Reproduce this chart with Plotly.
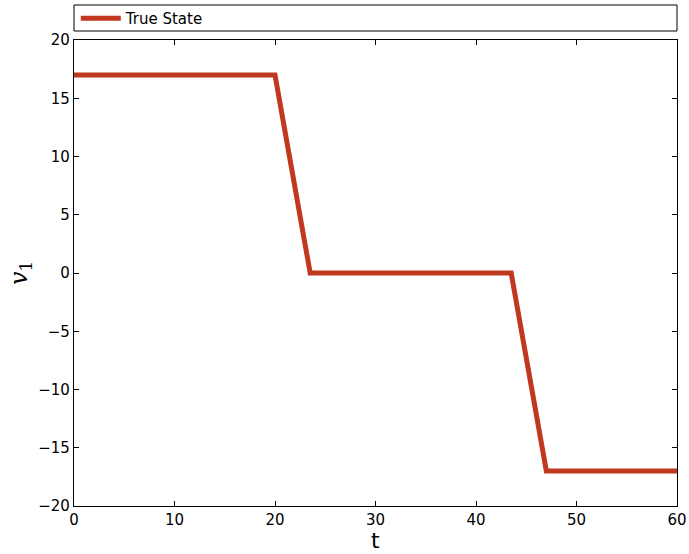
import plotly.graph_objects as go

t_values = [0, 20, 23.5, 43.5, 47, 60]
v1_values = [17, 17, 0, 0, -17, -17]
x_ticks = [0, 10, 20, 30, 40, 50, 60]
y_ticks = [-20, -15, -10, -5, 0, 5, 10, 15, 20]
y_tick_labels = ["\u221220", "\u221215", "\u221210", "\u22125", "0", "5", "10", "15", "20"]

W, H = 689, 554
ml, mr, mt, mb = 74, 12, 40, 48
pw = W - ml - mr
ph = H - mt - mb

fig = go.Figure()
fig.add_trace(go.Scatter(x=t_values, y=v1_values, mode="lines", name="True State",
                         line=dict(color="rgb(192,57,30)", width=5)))

axis_common = dict(showgrid=False, zeroline=False, showline=True, linecolor="black", linewidth=1.3,
                   mirror="ticks", ticks="inside", ticklen=5, tickcolor="black", tickwidth=1,
                   automargin=False,
                   tickfont=dict(family="DejaVu Sans", size=15, color="black"))

fig.update_xaxes(range=[0, 60], tickvals=x_ticks, ticktext=[str(v) for v in x_ticks], **axis_common)
fig.update_yaxes(range=[-20, 20], tickvals=y_ticks, ticktext=y_tick_labels, **axis_common)

fig.add_annotation(text="t", xref="paper", yref="paper", x=0.5, y=-34 / ph,
                   xanchor="center", yanchor="middle", showarrow=False,
                   font=dict(family="DejaVu Sans", size=22, color="black"))
fig.add_annotation(text="<i>v</i><sub>1</sub>", xref="paper", yref="paper", x=-54 / pw, y=0.5,
                   xanchor="center", yanchor="middle", showarrow=False, textangle=-90,
                   font=dict(family="DejaVu Serif", size=24, color="black"))

fig.add_shape(type="rect", xref="paper", yref="paper", x0=0, x1=1,
              y0=1 + 9 / ph, y1=1 + 35 / ph, line=dict(color="black", width=1), fillcolor="white", layer="below")

fig.update_layout(width=W, height=H, margin=dict(l=ml, r=mr, t=mt, b=mb, autoexpand=False),
                  plot_bgcolor="white", paper_bgcolor="white",
                  showlegend=True,
                  legend=dict(x=0.003, y=1 + 38 / ph, xanchor="left", yanchor="top",
                              bgcolor="rgba(0,0,0,0)", borderwidth=0,
                              font=dict(family="DejaVu Sans", size=15, color="black"),
                              itemwidth=40, tracegroupgap=0))

fig.write_html("out.html", config={"displayModeBar": False},
               post_script="document.body.style.margin='0';document.body.style.overflow='hidden';")
